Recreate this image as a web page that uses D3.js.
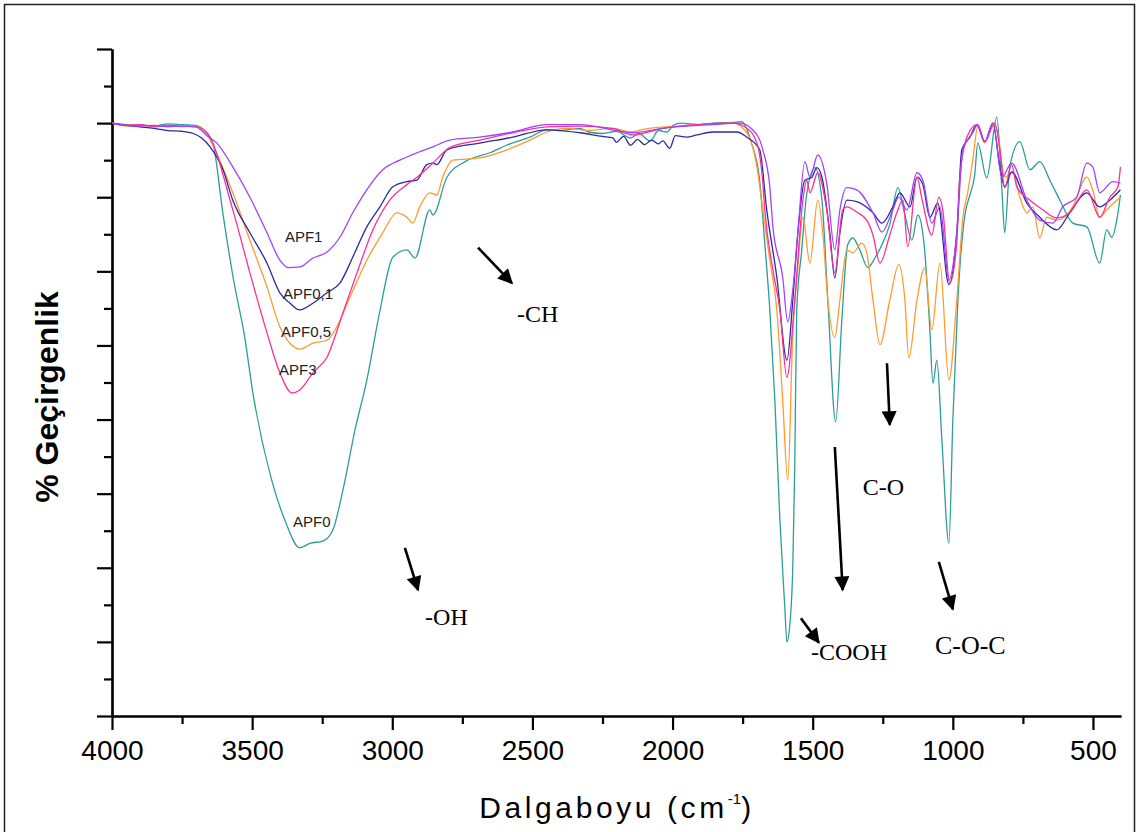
<!DOCTYPE html>
<html>
<head>
<meta charset="utf-8">
<script src="https://cdn.jsdelivr.net/npm/d3@7"></script>
<style>
  body { margin: 0; background: white; }
  svg { display: block; }
</style>
</head>
<body>
<svg id="chart" width="1138" height="832"></svg>
<script>
// [wavenumber cm-1, % transmittance]
const apf0 = [[4000,80.0],[3950,79.8],[3900,79.7],[3850,79.6],[3800,79.9],[3750,79.8],[3700,79.7],[3670,79.0],[3640,77.3],[3605,68.0],[3568,59.2],[3526,51.0],[3497,43.5],[3430,31.8],[3383,26.4],[3330,22.7],[3294,23.3],[3248,23.6],[3212,25.1],[3176,30.5],[3133,38.6],[3091,45.3],[3045,54.5],[2998,61.9],[2948,62.9],[2919,61.8],[2866,68.3],[2855,67.6],[2805,72.7],[2740,74.8],[2652,76.0],[2580,77.2],[2509,78.1],[2449,79.1],[2400,79.0],[2330,79.3],[2300,78.8],[2250,78.6],[2200,78.9],[2150,78.0],[2120,78.6],[2080,77.6],[2050,79.0],[2020,78.8],[2000,79.6],[1974,80.0],[1900,79.8],[1856,80.0],[1785,80.1],[1753,80.2],[1735,79.2],[1720,77.5],[1690,72.5],[1671,63.8],[1653,54.8],[1635,42.6],[1617,26.4],[1600,15.0],[1592,10.0],[1580,13.0],[1571,20.1],[1564,33.6],[1557,54.8],[1539,62.9],[1521,70.5],[1492,74.0],[1467,69.6],[1446,56.1],[1418,39.7],[1396,53.4],[1375,63.6],[1357,64.5],[1332,62.9],[1303,60.5],[1278,61.8],[1253,63.6],[1225,66.3],[1196,71.3],[1171,67.6],[1146,64.2],[1125,67.6],[1104,64.2],[1082,52.1],[1071,44.9],[1057,48.0],[1039,37.2],[1014,23.3],[1000,39.9],[982,56.1],[957,67.6],[939,70.3],[922,73.0],[911,77.3],[879,72.6],[843,80.8],[825,71.0],[815,65.2],[797,74.1],[761,77.5],[725,73.7],[690,74.8],[654,72.3],[618,69.6],[572,66.5],[522,66.0],[476,61.1],[451,65.6],[433,64.6],[415,66.9],[402,70.3]];

const apf05 = [[4000,80.0],[3950,79.6],[3900,79.8],[3850,79.6],[3800,79.6],[3750,79.5],[3700,79.6],[3670,79.0],[3644,77.3],[3569,70.6],[3508,64.2],[3447,57.9],[3401,52.5],[3365,50.3],[3330,49.5],[3283,50.3],[3233,50.7],[3198,52.5],[3151,56.5],[3091,61.5],[3034,65.2],[2984,67.9],[2948,67.3],[2927,66.5],[2902,68.7],[2866,70.6],[2841,70.3],[2820,72.7],[2784,75.0],[2688,75.3],[2591,76.4],[2509,77.7],[2449,78.8],[2377,79.3],[2300,79.0],[2213,79.3],[2150,78.8],[2100,79.2],[1974,79.6],[1785,80.0],[1735,78.7],[1699,74.1],[1678,68.3],[1653,61.5],[1628,54.8],[1607,42.6],[1589,31.8],[1571,51.7],[1553,60.6],[1535,67.3],[1510,61.1],[1482,69.6],[1464,65.2],[1446,56.1],[1421,51.1],[1403,56.1],[1378,62.9],[1357,62.5],[1325,63.8],[1307,62.5],[1285,56.1],[1260,50.1],[1225,56.1],[1193,60.9],[1171,56.1],[1157,48.3],[1128,56.1],[1100,60.5],[1075,52.1],[1046,61.1],[1014,45.3],[986,56.1],[964,67.3],[947,70.6],[929,75.0],[911,79.5],[886,77.3],[857,80.0],[840,78.7],[815,72.7],[786,73.4],[761,70.0],[736,67.9],[715,68.7],[690,64.5],[665,67.3],[629,66.9],[572,68.7],[522,72.7],[501,71.0],[476,67.3],[451,68.3],[415,69.6],[402,70.0]];

const apf01 = [[4000,80.0],[3950,79.7],[3900,79.5],[3850,79.3],[3800,79.0],[3750,78.9],[3710,78.6],[3680,78.0],[3650,76.8],[3604,73.7],[3569,69.6],[3508,65.2],[3447,61.1],[3401,57.1],[3365,55.7],[3330,54.8],[3283,55.7],[3233,57.1],[3187,58.4],[3141,61.9],[3091,66.0],[3044,68.7],[2998,71.4],[2948,72.1],[2912,72.3],[2877,74.4],[2855,74.6],[2841,74.4],[2805,76.4],[2688,77.3],[2570,78.1],[2449,79.1],[2331,78.7],[2250,78.2],[2213,78.0],[2200,77.4],[2175,78.2],[2150,77.0],[2125,77.8],[2100,77.1],[2075,77.7],[2050,77.2],[2035,77.6],[2010,76.6],[1990,78.3],[1950,78.1],[1913,78.4],[1856,78.8],[1771,78.8],[1735,78.1],[1689,76.4],[1664,68.3],[1628,59.2],[1592,48.0],[1571,56.1],[1553,65.2],[1528,72.3],[1503,72.7],[1485,74.0],[1467,72.7],[1439,65.2],[1421,59.1],[1403,65.2],[1378,69.6],[1343,69.4],[1285,67.9],[1253,66.5],[1214,68.7],[1189,70.6],[1153,68.7],[1128,72.7],[1107,71.7],[1082,67.3],[1054,69.2],[1014,58.2],[986,65.2],[968,76.4],[939,78.1],[914,79.8],[886,77.5],[857,80.0],[832,74.1],[815,71.4],[790,73.4],[736,69.2],[690,67.3],[629,65.6],[583,67.9],[522,70.6],[476,68.7],[440,69.6],[402,71.0]];

const apf3 = [[4000,80.0],[3950,79.7],[3900,79.8],[3850,79.5],[3800,79.7],[3750,79.6],[3700,79.5],[3661,78.7],[3569,68.3],[3508,59.8],[3447,51.7],[3401,46.3],[3358,43.6],[3330,44.0],[3283,46.3],[3233,48.4],[3176,54.4],[3126,59.8],[3069,65.6],[3009,69.6],[2948,71.7],[2912,72.7],[2855,74.6],[2795,76.7],[2688,77.7],[2570,78.7],[2449,79.5],[2331,79.6],[2213,79.3],[2142,78.4],[2035,79.3],[1913,79.8],[1785,80.0],[1735,79.3],[1699,77.3],[1678,71.9],[1671,68.3],[1642,60.2],[1617,54.8],[1592,45.7],[1564,56.1],[1535,69.6],[1521,72.3],[1510,70.6],[1482,73.3],[1450,68.3],[1421,59.8],[1393,68.3],[1378,68.7],[1343,68.0],[1307,66.9],[1285,64.9],[1260,61.1],[1225,64.9],[1200,67.9],[1178,69.6],[1161,63.3],[1128,72.7],[1111,69.9],[1075,64.9],[1050,70.0],[1036,68.3],[1011,58.4],[986,63.8],[975,72.7],[950,78.1],[914,79.8],[886,77.5],[850,80.0],[832,76.4],[815,71.3],[790,74.4],[772,71.4],[725,69.6],[679,68.3],[629,67.2],[583,67.9],[522,71.0],[476,67.3],[440,70.0],[411,71.4],[402,74.1]];

const apf1 = [[4000,80.0],[3950,79.7],[3900,79.6],[3850,79.7],[3800,79.5],[3750,79.6],[3700,79.5],[3661,78.3],[3626,77.3],[3569,74.1],[3508,70.0],[3447,65.2],[3401,61.5],[3372,60.5],[3330,60.6],[3283,61.8],[3233,62.6],[3187,64.6],[3141,67.9],[3091,71.0],[3034,73.7],[2973,75.0],[2912,76.0],[2855,76.8],[2795,77.7],[2688,78.1],[2570,78.8],[2449,79.8],[2331,79.8],[2142,78.7],[2035,79.3],[1856,79.8],[1760,80.0],[1714,79.1],[1678,76.4],[1653,71.4],[1642,66.0],[1607,59.2],[1589,53.2],[1571,57.5],[1553,65.2],[1528,74.8],[1510,72.7],[1482,75.7],[1450,71.9],[1421,62.9],[1403,68.3],[1378,71.3],[1343,71.0],[1285,67.9],[1253,65.3],[1214,68.3],[1193,70.0],[1164,68.3],[1128,73.3],[1107,72.3],[1075,66.5],[1046,68.7],[1014,58.8],[986,65.2],[964,76.4],[929,78.7],[911,79.8],[886,77.5],[857,80.0],[825,72.7],[790,74.6],[736,69.6],[690,66.9],[643,66.5],[608,68.7],[558,70.0],[522,74.6],[501,74.1],[476,70.6],[429,72.1],[402,71.9]];

const seriesData = [apf0, apf05, apf01, apf3, apf1];
const seriesColors = ["#2a9e98", "#ff9a2e", "#2a2aa6", "#ff2f93", "#a043ff"];

const xMajorTicks = [4000, 3500, 3000, 2500, 2000, 1500, 1000, 500];
const xMinorTicks = [3750, 3250, 2750, 2250, 1750, 1250, 750];
const yMajorTicks = [0, 10, 20, 30, 40, 50, 60, 70, 80, 90];
const yMinorTicks = [5, 15, 25, 35, 45, 55, 65, 75, 85];

// sample names written beside the OH band
const labelNames = ["APF1", "APF0,1", "APF0,5", "APF3", "APF0"];
const labelWn = [3383, 3390, 3397, 3404, 3354];
const labelT = [64.0, 56.3, 51.1, 46.0, 25.5];

// band assignments and their arrows [from wn, from T, to wn, to T]
const bandNames = ["-CH", "-OH", "C-O", "-COOH", "C-O-C"];
const bandWn = [2555, 2883, 1321, 1506, 1064];
const bandT = [53.2, 12.3, 29.8, 7.6, 8.4];
const arrowLines = [
  [2694, 63.2, 2573, 58.4],
  [2955, 22.7, 2908, 17.0],
  [1235, 47.6, 1225, 39.3],
  [1421, 36.3, 1393, 17.0],
  [1542, 13.2, 1478, 9.9],
  [1050, 20.8, 1000, 14.4]
];

const sans = "'Liberation Sans', Arial, sans-serif";
const serif = "'Liberation Serif', 'Times New Roman', serif";

const svg = d3.select("#chart");

const x = d3.scaleLinear().domain([4000, 400]).range([112, 1121]);
const y = d3.scaleLinear().domain([0, 90]).range([716, 49]);

// outer frame
svg.append("rect")
  .attr("x", 4.5).attr("y", 4.5)
  .attr("width", 1130).attr("height", 840)
  .attr("fill", "white")
  .attr("stroke", "#222")
  .attr("stroke-width", 1.5);

// axes
function styleAxis(g) {
  g.selectAll("path, line").attr("stroke", "#000").attr("stroke-width", 2.2);
  g.selectAll("text")
    .attr("fill", "#000")
    .style("font-family", sans)
    .style("font-size", "28px");
}

svg.append("g")
  .attr("transform", "translate(0,716)")
  .call(d3.axisBottom(x).tickValues(xMinorTicks).tickSize(8).tickSizeOuter(0).tickFormat(""))
  .call(styleAxis);

svg.append("g")
  .attr("transform", "translate(0,716)")
  .call(d3.axisBottom(x).tickValues(xMajorTicks).tickSize(14).tickSizeOuter(0).tickPadding(10).tickFormat(d3.format("d")))
  .call(styleAxis);

svg.append("g")
  .attr("transform", "translate(112,0)")
  .call(d3.axisLeft(y).tickValues(yMinorTicks).tickSize(8).tickSizeOuter(0).tickFormat(""))
  .call(styleAxis);

svg.append("g")
  .attr("transform", "translate(112,0)")
  .call(d3.axisLeft(y).tickValues(yMajorTicks).tickSize(15).tickSizeOuter(0).tickFormat(""))
  .call(styleAxis);

// spectra
const line = d3.line()
  .x(d => x(d[0]))
  .y(d => y(d[1]))
  .curve(d3.curveMonotoneX);

svg.append("g")
  .selectAll("path")
  .data(seriesData)
  .enter().append("path")
    .attr("d", line)
    .attr("fill", "none")
    .attr("stroke", (d, i) => seriesColors[i])
    .attr("stroke-width", 1.3)
    .attr("stroke-linejoin", "round");

// sample labels
svg.append("g")
  .selectAll("text")
  .data(labelNames)
  .enter().append("text")
    .attr("x", (d, i) => x(labelWn[i]))
    .attr("y", (d, i) => y(labelT[i]))
    .attr("fill", "#222")
    .style("font-family", sans)
    .style("font-size", "15px")
    .text(d => d);

// arrows
svg.append("defs").append("marker")
  .attr("id", "head")
  .attr("viewBox", "0 0 10 10")
  .attr("refX", 9)
  .attr("refY", 5)
  .attr("markerUnits", "userSpaceOnUse")
  .attr("markerWidth", 17)
  .attr("markerHeight", 15)
  .attr("orient", "auto")
  .append("path")
    .attr("d", "M0,0L10,5L0,10Z")
    .attr("fill", "#000");

svg.append("g")
  .selectAll("line")
  .data(arrowLines)
  .enter().append("line")
    .attr("x1", d => x(d[0]))
    .attr("y1", d => y(d[1]))
    .attr("x2", d => x(d[2]))
    .attr("y2", d => y(d[3]))
    .attr("stroke", "#000")
    .attr("stroke-width", 2.6)
    .attr("marker-end", "url(#head)");

svg.append("g")
  .selectAll("text")
  .data(bandNames)
  .enter().append("text")
    .attr("x", (d, i) => x(bandWn[i]))
    .attr("y", (d, i) => y(bandT[i]))
    .attr("fill", "#000")
    .style("font-family", serif)
    .style("font-size", d => d === "C-O-C" ? "26px" : "24px")
    .text(d => d);

// axis titles
const xTitle = svg.append("text")
  .attr("x", 617)
  .attr("y", 818)
  .attr("text-anchor", "middle")
  .attr("fill", "#000")
  .style("font-family", sans)
  .style("font-size", "30px")
  .style("letter-spacing", "3.6px");
xTitle.append("tspan").text("Dalgaboyu (cm");
xTitle.append("tspan").attr("dy", -14).style("font-size", "15px").style("letter-spacing", "0px").text("-1");
xTitle.append("tspan").attr("dy", 14).text(")");

svg.append("text")
  .attr("transform", "translate(58,397) rotate(-90)")
  .attr("text-anchor", "middle")
  .attr("fill", "#000")
  .style("font-family", sans)
  .style("font-size", "32px")
  .style("font-weight", "bold")
  .text("% Geçirgenlik");
</script>
</body>
</html>
